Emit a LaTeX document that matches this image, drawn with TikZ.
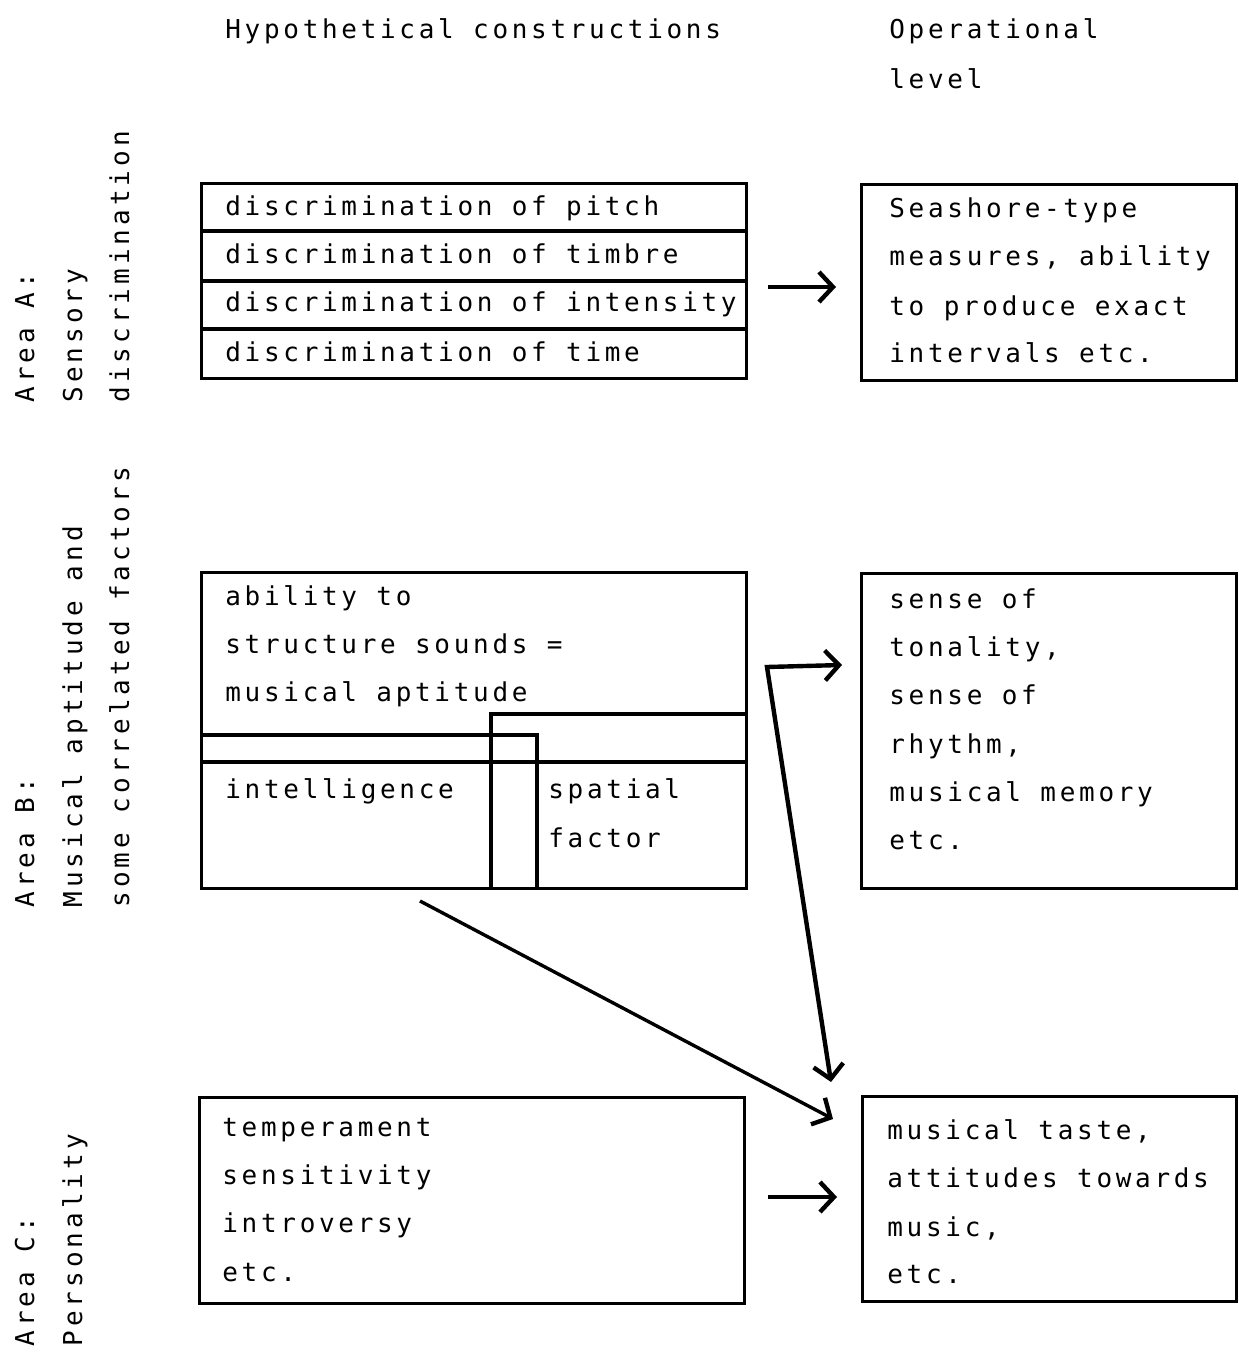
\documentclass[tikz,border=0pt]{standalone}
\usepackage{fontspec}
\setmonofont[LetterSpace=14.2]{DejaVu Sans Mono}
\newfontfamily\vmono[LetterSpace=15.5]{DejaVu Sans Mono}
\usetikzlibrary{arrows.meta}
\begin{document}
\begin{tikzpicture}[x=0.5pt,y=-0.5pt,
  box/.style={draw, line width=1.6pt, anchor=north west, inner sep=0pt},
  divider/.style={line width=1.6pt},
  txt/.style={anchor=base west, inner sep=0pt, font=\ttfamily\fontsize{13}{13}\selectfont},
  vtxt/.style={anchor=base west, inner sep=0pt, rotate=90, font=\vmono\fontsize{13}{13}\selectfont},
  barb/.tip={Straight Barb[length=7pt,width=15pt,line width=2.2pt]},
  arr/.style={line width=2.2pt, -barb},
  darr/.style={line width=2.2pt, barb-barb},
  diag/.style={line width=1.7pt, -barb}]
\useasboundingbox (0,0) rectangle (1238,1353);

% headers
\node[txt] (h1) at (225,39) {Hypothetical constructions};
\node[txt] (h2) at (889,39) {Operational};
\node[txt] (h3) at (889,89) {level};

% side labels
\node[vtxt] (la1) at (34,403) {Area A:};
\node[vtxt] (la2) at (82,403) {Sensory};
\node[vtxt] (la3) at (129,403) {discrimination};
\node[vtxt] (lb1) at (34,908) {Area B:};
\node[vtxt] (lb2) at (82,908) {Musical aptitude and};
\node[vtxt] (lb3) at (129,908) {some correlated factors};
\node[vtxt] (lc1) at (34,1347) {Area C:};
\node[vtxt] (lc2) at (82,1347) {Personality};

% Area A
\node[box, minimum width=272.5pt, minimum height=97.5pt] (A) at (200,182) {};
\draw[divider] (200,231) -- (745,231);
\draw[divider] (200,281) -- (745,281);
\draw[divider] (200,329) -- (745,329);
\node[txt] (a1) at (225,216) {discrimination of pitch};
\node[txt] (a2) at (225,264) {discrimination of timbre};
\node[txt] (a3) at (225,312) {discrimination of intensity};
\node[txt] (a4) at (225,361) {discrimination of time};

\node[box, minimum width=187.5pt, minimum height=98pt] (Ap) at (860,183) {};
\node[txt] (ap1) at (889,218) {Seashore-type};
\node[txt] (ap2) at (889,266) {measures, ability};
\node[txt] (ap3) at (889,315) {to produce exact};
\node[txt] (ap4) at (889,363) {intervals etc.};

% Area B
\node[box, minimum width=272.5pt, minimum height=158pt] (B) at (200,571) {};
\draw[divider] (491,887) -- (491,714) -- (745,714);
\draw[divider] (200,735) -- (537,735) -- (537,887);
\draw[divider] (200,762) -- (745,762);
\node[txt] (b1) at (225,605) {ability to};
\node[txt] (b2) at (225,653) {structure sounds =};
\node[txt] (b3) at (225,701) {musical aptitude};
\node[txt] (b4) at (225,798) {intelligence};
\node[txt] (b5) at (548,798) {spatial};
\node[txt] (b6) at (548,847) {factor};

\node[box, minimum width=187.5pt, minimum height=157.5pt] (Bp) at (860,572) {};
\node[txt] (bp1) at (889,608) {sense of};
\node[txt] (bp2) at (889,656) {tonality,};
\node[txt] (bp3) at (889,704) {sense of};
\node[txt] (bp4) at (889,753) {rhythm,};
\node[txt] (bp5) at (889,801) {musical memory};
\node[txt] (bp6) at (889,849) {etc.};

% Area C
\node[box, minimum width=272.5pt, minimum height=103pt] (C) at (198,1096) {};
\node[txt] (c1) at (222,1136) {temperament};
\node[txt] (c2) at (222,1184) {sensitivity};
\node[txt] (c3) at (222,1232) {introversy};
\node[txt] (c4) at (222,1281) {etc.};

\node[box, minimum width=187pt, minimum height=102.5pt] (Cp) at (861,1095) {};
\node[txt] (cp1) at (887,1139) {musical taste,};
\node[txt] (cp2) at (887,1187) {attitudes towards};
\node[txt] (cp3) at (887,1236) {music,};
\node[txt] (cp4) at (887,1283) {etc.};

% connectors
\coordinate (aS) at (768,287);
\coordinate (aE) at (836,287);
\draw[arr] (aS) -- (aE);

\coordinate (bCorner) at (767,667);
\coordinate (bE) at (842,665);
\coordinate (bD) at (831,1082);
\draw[darr] (bE) -- (bCorner) -- (bD);

\coordinate (dS) at (420,901);
\coordinate (dE) at (833,1119);
\draw[diag] (dS) -- (dE);

\coordinate (cS) at (768,1197);
\coordinate (cE) at (837,1197);
\draw[arr] (cS) -- (cE);
\end{tikzpicture}
\end{document}
